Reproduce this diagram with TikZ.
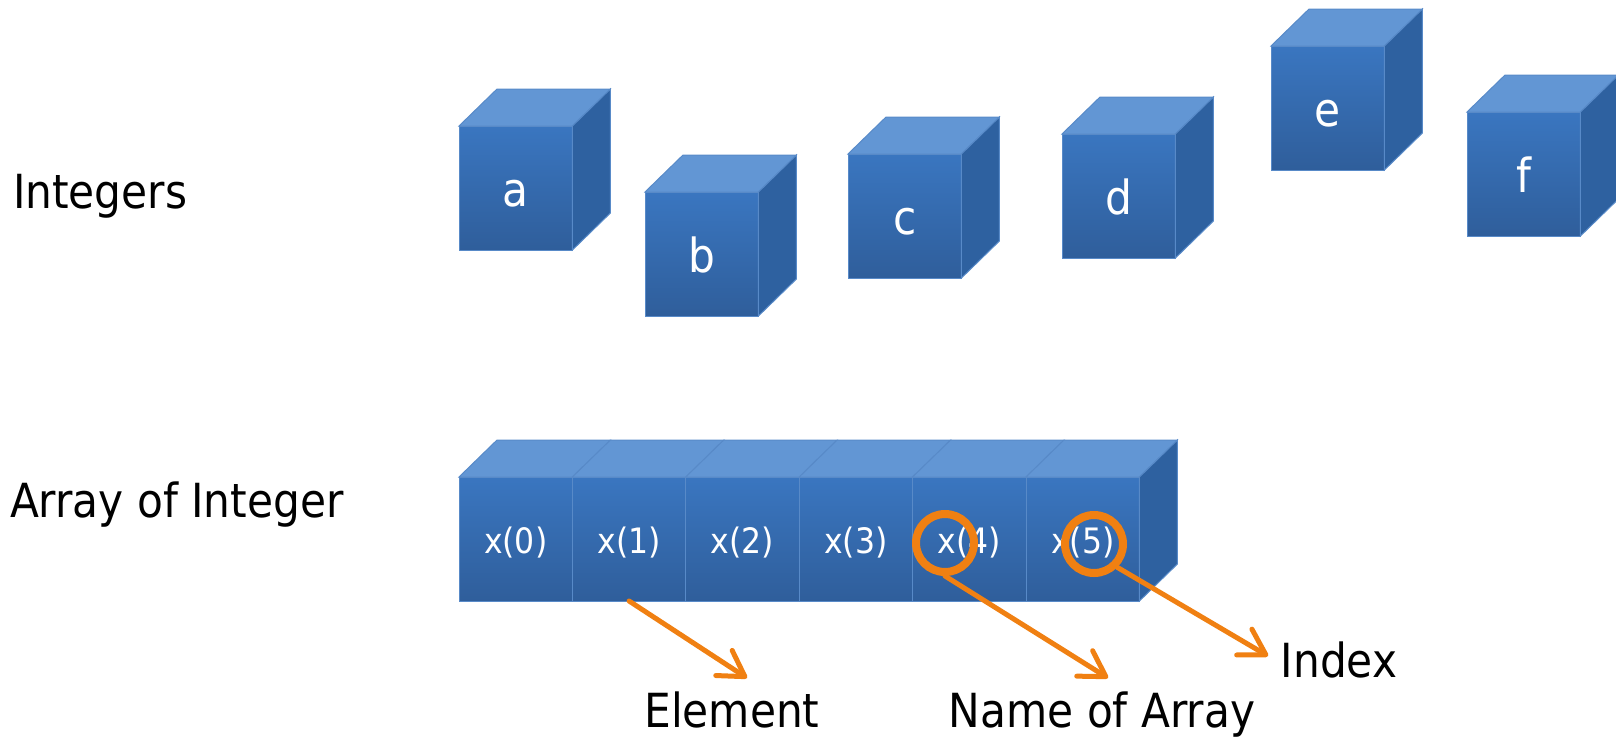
\documentclass[tikz,border=0pt]{standalone}
\usepackage{fontspec}
\setmainfont{DejaVu Sans Condensed}
\usetikzlibrary{positioning,arrows.meta}

\definecolor{boxfront}{RGB}{58,118,192}
\definecolor{boxfrontdark}{RGB}{47,94,155}
\definecolor{boxtop}{RGB}{98,150,212}
\definecolor{boxside}{RGB}{46,97,160}
\definecolor{boxedge}{RGB}{88,138,200}
\definecolor{markorange}{RGB}{240,128,18}

% top and right faces of a box node
\newcommand{\boxtopface}[1]{%
  \filldraw[draw=boxedge, fill=boxtop, line width=0.5pt]
    (#1.north west) -- ++(19pt,18.5pt) -- ([shift={(19pt,18.5pt)}]#1.north east)
    -- (#1.north east) -- cycle;}
\newcommand{\boxsideface}[1]{%
  \filldraw[draw=boxedge, fill=boxside, line width=0.5pt]
    (#1.north east) -- ++(19pt,18.5pt) -- ++(0pt,-62pt) -- (#1.south east) -- cycle;}

\begin{document}
\begin{tikzpicture}[x=0.5pt,y=-0.5pt,node distance=0pt,
   every node/.style={font=\fontsize{23.5}{28}\selectfont},
   box/.style={draw=boxedge, line width=0.5pt, top color=boxfront,
     bottom color=boxfrontdark, minimum width=56.7pt, minimum height=62pt,
     inner sep=0pt, outer sep=0pt, text=white, text height=18pt, text depth=0pt},
   cell/.style={box, font=\fontsize{17.5}{20}\selectfont, text height=14pt},
   ring/.style={circle, draw=markorange, line width=4pt, minimum size=29pt,
     inner sep=0pt},
   pointer/.style={draw=markorange, line width=2.5pt, line cap=round,
     -{Straight Barb[round,length=12.5pt,width=15pt]}}]
  \useasboundingbox (0,0) rectangle (1616,741);

  \node[anchor=base west] (intlabel) at (6,208) {Integers};
  \node[anchor=base west] (arrlabel) at (3,517) {Array of Integer};

  % single integers
  \node[box] (a) at (515.7,188) {a};
  \node[box] (b) at (701.7,254) {b};
  \node[box] (c) at (904.7,216) {c};
  \node[box] (d) at (1118.7,196) {d};
  \node[box] (e) at (1327.7,108) {e};
  \node[box] (f) at (1523.7,174) {f};
  \foreach \n in {a,b,c,d,e,f} {\boxtopface{\n}\boxsideface{\n}}

  % the array
  \node[cell] (x0) at (515.7,539) {x(0)};
  \node[cell] (x1) [right=of x0] {x(1)};
  \node[cell] (x2) [right=of x1] {x(2)};
  \node[cell] (x3) [right=of x2] {x(3)};
  \node[cell] (x4) [right=of x3] {x(4)};
  \node[cell] (x5) [right=of x4] {x(5)};
  \foreach \n in {x0,x1,x2,x3,x4,x5} {\boxtopface{\n}}
  \boxsideface{x5}

  \node[ring] (n4) at (945,543) {};
  \node[ring] (n5) at (1094,544) {};

  \node[anchor=base] (elem) at (732,727) {Element};
  \node[anchor=base] (name) at (1102,727) {Name of Array};
  \node[anchor=base] (idx) at (1339,677) {Index};

  \coordinate (elemtip) at (747,678);
  \coordinate (nametip) at (1108,678);
  \coordinate (idxtip) at (1268,656);
  \draw[pointer] (x1.south) -- (elemtip);
  \draw[pointer] (n4.south) -- (nametip);
  \draw[pointer] (n5.south east) -- (idxtip);
\end{tikzpicture}
\end{document}
